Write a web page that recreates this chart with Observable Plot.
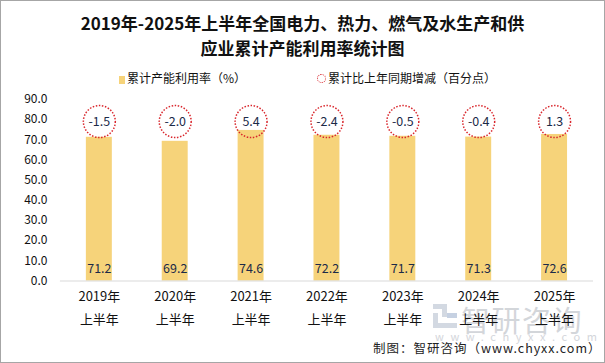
<!DOCTYPE html>
<html><head><meta charset="utf-8">
<script src="https://cdn.jsdelivr.net/npm/d3@7"></script>
<script src="https://cdn.jsdelivr.net/npm/@observablehq/plot@0.6"></script>
<style>
body{margin:0;background:#fff;}
#wrap{position:relative;width:605px;height:363px;box-sizing:border-box;border:1px solid #a6a6a6;overflow:hidden;font-family:"Noto Sans CJK SC","Noto Sans",sans-serif;color:#111;}
#chart{position:absolute;left:-1px;top:-1px;}
#title{position:absolute;left:0;width:603px;top:9px;text-align:center;font-size:17px;font-weight:bold;line-height:25px;color:#111;}
.leg{position:absolute;top:69px;font-size:12px;line-height:16px;color:#111;white-space:nowrap;}
.sw{display:inline-block;width:6px;height:8px;background:#F6D37A;margin-right:2px;vertical-align:-1px;}
.cir{display:inline-block;width:7px;height:7px;border:1.3px dotted #d9262c;border-radius:50%;margin-right:2px;vertical-align:0px;}
#foot{position:absolute;left:372px;top:337px;font-size:12.5px;color:#222;letter-spacing:1px;white-space:nowrap;}
#logo{position:absolute;left:432px;top:303px;width:24px;height:24px;opacity:0.8;}
#logo i{position:absolute;background:#c9d0dc;}
#wm{position:absolute;left:460px;top:297px;font-size:29px;color:#c9ccd2;opacity:0.8;white-space:nowrap;letter-spacing:1.5px;}
#wm2{position:absolute;left:434px;top:327px;font-size:11px;color:#c9ccd2;opacity:0.8;letter-spacing:6.6px;white-space:nowrap;}
</style></head>
<body>
<div id="wrap">
  <div id="title">2019年-2025年上半年全国电力、热力、燃气及水生产和供<br>应业累计产能利用率统计图</div>
  <div class="leg" style="left:118px"><span class="sw"></span>累计产能利用率（%）</div>
  <div class="leg" style="left:316px"><span class="cir"></span>累计比上年同期增减（百分点）</div>
  <div id="logo"><i style="left:0;top:0;width:14px;height:5px"></i><i style="left:9px;top:0;width:5px;height:13px"></i><i style="left:0;top:9px;width:5px;height:15px"></i><i style="left:0;top:19px;width:24px;height:5px"></i><i style="left:14px;top:9px;width:10px;height:5px;background:#b9c6dc"></i></div>
  <div id="wm">智研咨询</div>
  <div id="wm2">www.chyxx.com</div>
  <div id="chart"></div>
  <div id="foot">制图：智研咨询（www.chyxx.com）</div>
</div>
<script>
const years = ["2019年","2020年","2021年","2022年","2023年","2024年","2025年"];
const period = "上半年";
const rate = [71.2, 69.2, 74.6, 72.2, 71.7, 71.3, 72.6];
const change = [-1.5, -2.0, 5.4, -2.4, -0.5, -0.4, 1.3];
const yTicks = [0,10,20,30,40,50,60,70,80,90];

const data = years.map((y,i)=>({year:y, rate:rate[i], change:change[i]}));
const CIRCLE_LEVEL = 79; // annotation row height in y units
const font = '"Noto Sans CJK SC","Noto Sans",sans-serif';

const chart = Plot.plot({
  width:605, height:363,
  marginTop:99, marginBottom:82, marginLeft:60, marginRight:11,
  style:{fontFamily:font, background:"transparent", overflow:"visible"},
  x:{domain:years, paddingInner:0.66, paddingOuter:0.33, axis:null},
  y:{domain:[0,90], axis:null},
  marks:[
    Plot.axisY({ticks:yTicks, tickFormat:d3.format(".1f"), tickSize:0, tickPadding:13, fontSize:12, color:"#111", label:null}),
    Plot.barY(data,{x:"year", y:"rate", fill:"#F6D37A"}),
    Plot.ruleY([0],{stroke:"#d9d9d9", strokeWidth:1}),
    Plot.text(data,{x:"year", y:()=>0, text:d=>d.rate.toFixed(1), dy:-12, fontSize:12.5, fill:"#1b2a48"}),
    Plot.dot(data,{x:"year", y:()=>CIRCLE_LEVEL, r:16, stroke:"#d9262c", strokeWidth:1.5, strokeDasharray:"1.5 1.6", fill:"none"}),
    Plot.text(data,{x:"year", y:()=>CIRCLE_LEVEL, text:d=>d.change.toFixed(1), fontSize:12.5, fill:"#1b2a48"}),
    Plot.text(data,{x:"year", frameAnchor:"bottom", text:d=>d.year, dy:20, fontSize:13, fill:"#111"}),
    Plot.text(data,{x:"year", frameAnchor:"bottom", text:()=>period, dy:43, fontSize:13, fill:"#111"})
  ]
});
document.getElementById("chart").appendChild(chart);
</script>
</body></html>
